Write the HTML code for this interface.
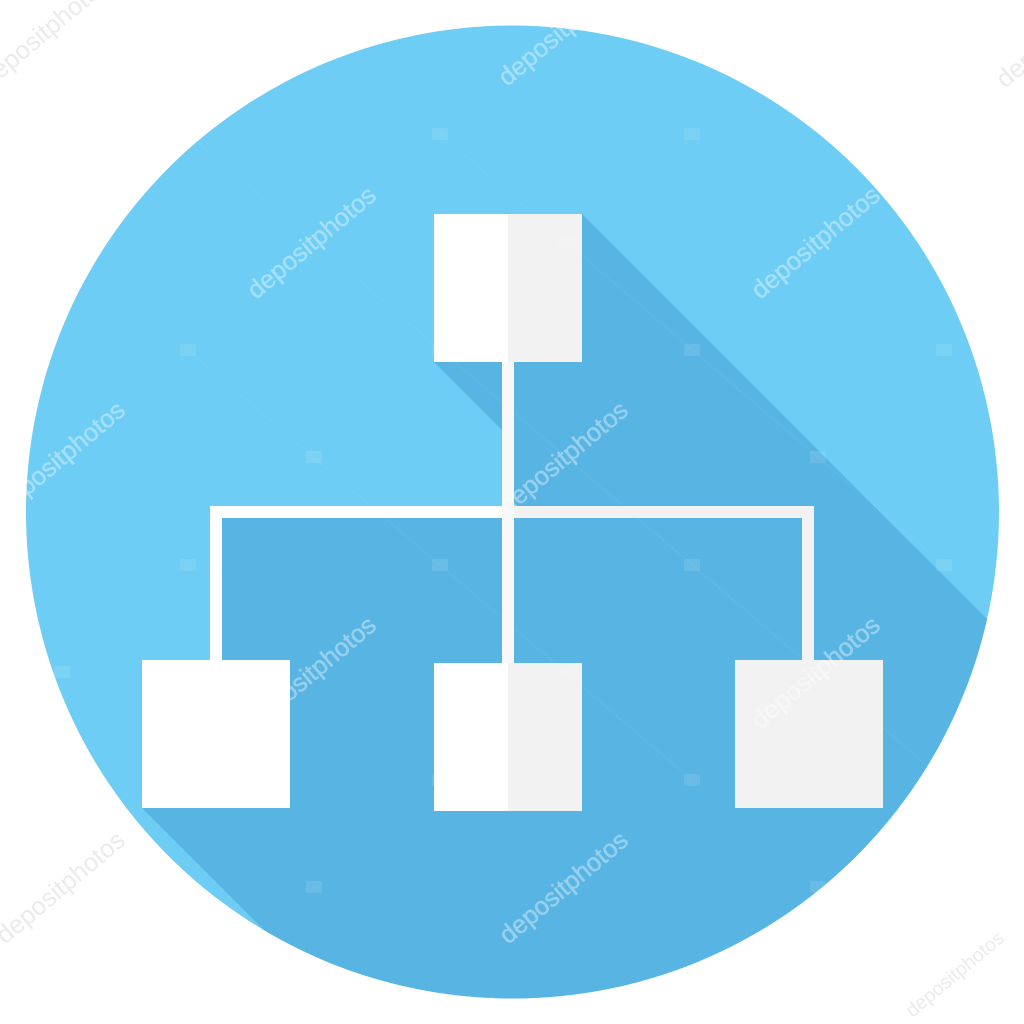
<!DOCTYPE html>
<html lang="en">
<head>
<meta charset="utf-8">
<title>Hierarchy icon</title>
<style>
html,body{margin:0;padding:0;background:#fff;width:1024px;height:1024px;overflow:hidden}
svg{display:block}
.wm{font-family:"Liberation Sans",sans-serif;font-size:25.5px;fill:#fff;fill-opacity:.36;stroke:#fff;stroke-opacity:.2;stroke-width:.6;text-anchor:middle}
.wo{font-family:"Liberation Sans",sans-serif;font-size:25.5px;fill:#d8d8d8;fill-opacity:.5;text-anchor:middle}
</style>
</head>
<body>
<svg width="1024" height="1024" viewBox="0 0 1024 1024" xmlns="http://www.w3.org/2000/svg">
  <defs>
    <clipPath id="disc"><circle cx="512.5" cy="512" r="486.5"/></clipPath>
  </defs>
  <rect width="1024" height="1024" fill="#fff"/>
  <circle cx="512.5" cy="512" r="486.5" fill="#6ecdf4"/>
  <g clip-path="url(#disc)">
    <polygon points="582,214 1182,814 1182,1100 434,1100 142,808 142,808 222,660 222,518 502,518 502,430 434,362 502,362 502,300" fill="#58b5e3"/>
  </g>

  <g stroke="#ffffff" stroke-opacity=".05" stroke-width="1" clip-path="url(#disc)">
    <line x1="188" y1="134" x2="944" y2="780"/>
    <line x1="440" y1="134" x2="944" y2="565"/>
    <line x1="188" y1="350" x2="692" y2="780"/>
  </g>

  <g>
    <rect x="502" y="362" width="12" height="302" fill="#f8f8f8"/>
    <rect x="210" y="506" width="292" height="12" fill="#ffffff"/>
    <rect x="514" y="506" width="300" height="12" fill="#f2f2f2"/>
    <rect x="210" y="518" width="12" height="142" fill="#ffffff"/>
    <rect x="802" y="518" width="12" height="142" fill="#f2f2f2"/>
  </g>

  <g>
    <rect x="434" y="214" width="74" height="148" fill="#ffffff"/>
    <rect x="508" y="214" width="74" height="148" fill="#f2f2f2"/>
  </g>
  <rect x="142" y="660" width="148" height="148" fill="#ffffff"/>
  <g>
    <rect x="434" y="663" width="74" height="148" fill="#ffffff"/>
    <rect x="508" y="663" width="74" height="148" fill="#f2f2f2"/>
  </g>
  <rect x="735" y="660" width="148" height="148" fill="#f2f2f2"/>

  <g>
    <text class="wo" transform="translate(50,38) rotate(-40)">depositphotos</text>
    <text class="wm" transform="translate(568,36) rotate(-40)">depositphotos</text>
    <text class="wo" transform="translate(1066,38) rotate(-40)">depositphotos</text>
    <text class="wm" transform="translate(317,249) rotate(-40)">depositphotos</text>
    <text class="wm" transform="translate(821,249) rotate(-40)">depositphotos</text>
    <text class="wm" transform="translate(66,464) rotate(-40)">depositphotos</text>
    <text class="wm" transform="translate(569,464) rotate(-40)">depositphotos</text>
    <text class="wm" transform="translate(317,679) rotate(-40)">depositphotos</text>
    <text class="wm" transform="translate(821,679) rotate(-40)">depositphotos</text>
    <text class="wo" transform="translate(66,894) rotate(-40)">depositphotos</text>
    <text class="wm" transform="translate(569,894) rotate(-40)">depositphotos</text>
    <text class="wo" style="font-size:19.5px" transform="translate(959,979) rotate(-40)">depositphotos</text>
  </g>

  <g fill="#ffffff" fill-opacity=".1">
    <rect x="180" y="128" width="16" height="12" rx="2"/>
    <rect x="432" y="128" width="16" height="12" rx="2"/>
    <rect x="684" y="128" width="16" height="12" rx="2"/>
    <rect x="936" y="128" width="16" height="12" rx="2"/>
    <rect x="54" y="235" width="16" height="12" rx="2"/>
    <rect x="558" y="235" width="16" height="12" rx="2"/>
    <rect x="180" y="344" width="16" height="12" rx="2"/>
    <rect x="432" y="344" width="16" height="12" rx="2"/>
    <rect x="684" y="344" width="16" height="12" rx="2"/>
    <rect x="936" y="344" width="16" height="12" rx="2"/>
    <rect x="306" y="451" width="16" height="12" rx="2"/>
    <rect x="810" y="451" width="16" height="12" rx="2"/>
    <rect x="180" y="559" width="16" height="12" rx="2"/>
    <rect x="432" y="559" width="16" height="12" rx="2"/>
    <rect x="684" y="559" width="16" height="12" rx="2"/>
    <rect x="936" y="559" width="16" height="12" rx="2"/>
    <rect x="54" y="666" width="16" height="12" rx="2"/>
    <rect x="558" y="666" width="16" height="12" rx="2"/>
    <rect x="180" y="774" width="16" height="12" rx="2"/>
    <rect x="432" y="774" width="16" height="12" rx="2"/>
    <rect x="684" y="774" width="16" height="12" rx="2"/>
    <rect x="936" y="774" width="16" height="12" rx="2"/>
    <rect x="306" y="881" width="16" height="12" rx="2"/>
    <rect x="810" y="881" width="16" height="12" rx="2"/>
    <rect x="684" y="989" width="16" height="12" rx="2"/>
  </g>
</svg>
</body>
</html>
